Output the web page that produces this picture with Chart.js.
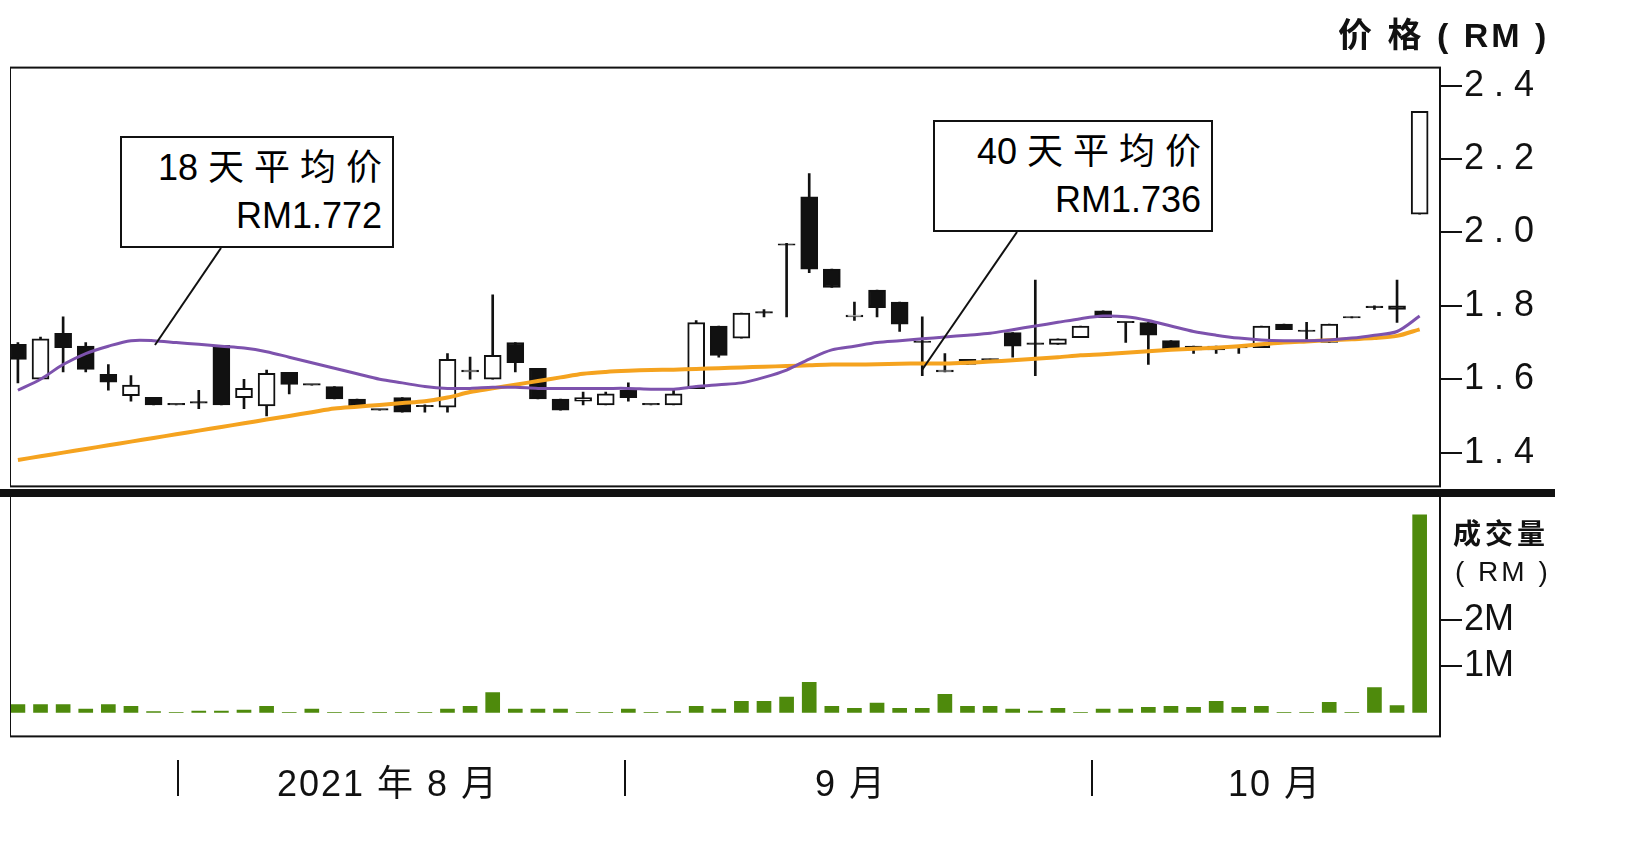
<!DOCTYPE html>
<html>
<head>
<meta charset="utf-8">
<script src="https://cdn.jsdelivr.net/npm/chart.js@4.4.0/dist/chart.umd.min.js"></script>
<style>
  body { margin: 0; background: #fff; width: 1633px; height: 841px; position: relative; overflow: hidden;
         font-family: "Liberation Sans", "Noto Sans CJK SC", sans-serif; }
  .box { position: absolute; }
  .t { position: absolute; color: #111; white-space: nowrap; }
  .callout { position: absolute; border: 2px solid #111; background: #fff; box-sizing: border-box;
             font-size: 36px; text-align: right; padding: 6px 10px 0 0; line-height: 48px; }
</style>
</head>
<body>
<div class="box" style="left:10px;top:44px;width:1545px;height:466px"><canvas id="price"></canvas></div>
<div class="box" style="left:10px;top:471px;width:1545px;height:289px"><canvas id="vol"></canvas></div>
<div style="position:absolute;left:0;top:489px;width:1555px;height:8px;background:#111"></div>

<div class="t" style="left:1338px;top:8px;font-size:34px;font-weight:bold;letter-spacing:3px">价 格 ( RM )</div>
<div class="t" style="left:1453px;top:512px;font-size:28px;font-weight:bold;letter-spacing:4px">成交量</div>
<div class="t" style="left:1455px;top:556px;font-size:28px;letter-spacing:3px">( RM )</div>

<div class="t" style="left:277px;top:754px;font-size:36px;letter-spacing:2px">2021 年 8 月</div>
<div class="t" style="left:815px;top:754px;font-size:36px;letter-spacing:2px">9 月</div>
<div class="t" style="left:1228px;top:754px;font-size:36px;letter-spacing:2px">10 月</div>
<div style="position:absolute;left:177px;top:760px;width:2px;height:36px;background:#111"></div>
<div style="position:absolute;left:624px;top:760px;width:2px;height:36px;background:#111"></div>
<div style="position:absolute;left:1091px;top:760px;width:2px;height:36px;background:#111"></div>

<svg style="position:absolute;left:0;top:0;z-index:2" width="1633" height="841">
  <line x1="221" y1="248" x2="155" y2="345" stroke="#111" stroke-width="2"/>
  <line x1="1017" y1="232" x2="922" y2="370" stroke="#111" stroke-width="2"/>
</svg>
<div class="callout" style="left:120px;top:136px;width:274px;height:112px;z-index:3">18 天 平 均 价<br>RM1.772</div>
<div class="callout" style="left:933px;top:120px;width:280px;height:112px;z-index:3">40 天 平 均 价<br>RM1.736</div>

<script>
var openP  = [1.695,1.60,1.725,1.69,1.613,1.555,1.551,1.53,1.535,1.692,1.55,1.527,1.619,1.584,1.58,1.546,1.516,1.55,1.525,1.524,1.62,1.60,1.70,1.63,1.546,1.54,1.53,1.57,1.53,1.53,1.574,1.745,1.712,1.78,1.965,2.097,1.90,1.77,1.843,1.81,1.70,1.62,1.654,1.652,1.727,1.695,1.695,1.713,1.786,1.754,1.754,1.705,1.68,1.69,1.685,1.686,1.75,1.73,1.70,1.767,1.795,1.80,2.05];
var highP  = [1.70,1.715,1.77,1.70,1.64,1.61,1.551,1.53,1.57,1.692,1.60,1.625,1.619,1.584,1.58,1.546,1.516,1.55,1.53,1.67,1.66,1.83,1.70,1.63,1.546,1.565,1.565,1.59,1.53,1.57,1.76,1.745,1.78,1.79,1.97,2.16,1.90,1.81,1.843,1.81,1.77,1.67,1.654,1.655,1.727,1.87,1.71,1.745,1.786,1.754,1.754,1.705,1.69,1.69,1.685,1.745,1.75,1.755,1.75,1.77,1.80,1.87,2.33];
var lowP   = [1.59,1.60,1.62,1.62,1.57,1.54,1.53,1.53,1.52,1.53,1.52,1.50,1.56,1.584,1.546,1.524,1.516,1.51,1.51,1.51,1.60,1.60,1.62,1.546,1.516,1.53,1.53,1.54,1.53,1.53,1.574,1.66,1.712,1.77,1.77,1.89,1.85,1.76,1.77,1.73,1.61,1.62,1.64,1.645,1.66,1.61,1.695,1.713,1.768,1.70,1.64,1.68,1.67,1.67,1.67,1.686,1.735,1.70,1.70,1.767,1.79,1.755,2.05];
var closeP = [1.654,1.71,1.686,1.627,1.592,1.584,1.53,1.53,1.535,1.53,1.575,1.616,1.586,1.584,1.546,1.524,1.516,1.51,1.525,1.654,1.625,1.665,1.645,1.546,1.516,1.55,1.56,1.55,1.53,1.56,1.754,1.665,1.78,1.78,1.965,1.90,1.85,1.775,1.795,1.75,1.70,1.625,1.64,1.652,1.69,1.695,1.71,1.745,1.768,1.754,1.72,1.68,1.69,1.68,1.685,1.745,1.735,1.73,1.75,1.767,1.795,1.79,2.33];
var ma18 = [1.57,1.60,1.64,1.67,1.69,1.705,1.705,1.70,1.695,1.69,1.685,1.675,1.66,1.645,1.63,1.615,1.60,1.59,1.58,1.575,1.575,1.578,1.578,1.575,1.575,1.575,1.575,1.575,1.573,1.573,1.58,1.585,1.59,1.605,1.625,1.655,1.68,1.69,1.70,1.705,1.71,1.715,1.72,1.725,1.735,1.745,1.755,1.765,1.772,1.77,1.76,1.745,1.73,1.72,1.712,1.707,1.705,1.705,1.707,1.712,1.72,1.73,1.772];
var ma40 = [1.38,1.39,1.40,1.41,1.42,1.43,1.44,1.45,1.46,1.47,1.48,1.49,1.50,1.51,1.52,1.525,1.53,1.535,1.54,1.55,1.565,1.575,1.585,1.595,1.605,1.615,1.62,1.623,1.625,1.626,1.628,1.63,1.632,1.634,1.636,1.638,1.64,1.64,1.641,1.642,1.643,1.643,1.645,1.648,1.652,1.656,1.66,1.665,1.668,1.672,1.676,1.68,1.683,1.686,1.69,1.695,1.70,1.703,1.706,1.709,1.712,1.718,1.736];
var volM = [0.17,0.17,0.17,0.07,0.17,0.13,0.02,0,0.03,0.03,0.05,0.13,0,0.07,0,0,0,0,0,0.07,0.13,0.43,0.07,0.07,0.07,0,0,0.07,0,0.02,0.13,0.07,0.24,0.24,0.33,0.65,0.13,0.09,0.2,0.09,0.09,0.39,0.13,0.13,0.07,0.03,0.09,0,0.07,0.07,0.11,0.13,0.11,0.24,0.11,0.13,0,0,0.22,0,0.54,0.15,4.28];
var priceTicks = [1.4, 1.6, 1.8, 2.0, 2.2, 2.4];
var volTicks = [1, 2];

var wicks = [], bodies = [], bodyColors = [], ma18Pts = [], ma40Pts = [], volPts = [];
for (var i = 0; i < openP.length; i++) {
  wicks.push({x: i, y: [lowP[i], highP[i]]});
  var o = openP[i], c = closeP[i];
  if (Math.abs(o - c) < 0.003) { c = o + 0.004; }
  bodies.push({x: i, y: [o, c]});
  bodyColors.push(closeP[i] > openP[i] ? "#fff" : "#111");
  ma18Pts.push({x: i, y: ma18[i]});
  ma40Pts.push({x: i, y: ma40[i]});
  volPts.push({x: i, y: volM[i]});
}

var framePlugin = { id: "frame", afterDraw: function(ch) {
  var a = ch.chartArea, ctx = ch.ctx;
  ctx.save();
  ctx.strokeStyle = "#111";
  ctx.lineWidth = 2;
  ctx.strokeRect(a.left, a.top, a.right - a.left, a.bottom - a.top);
  ctx.restore();
} };

function xAxis() {
  return { type: "linear", min: -0.35, max: 62.9, offset: false, display: false };
}
function yAxis(min, max, ticks, fmt) {
  return {
    position: "right", min: min, max: max,
    afterBuildTicks: function(ax) { ax.ticks = ticks.map(function(v) { return {value: v}; }); },
    afterFit: function(ax) { ax.width = 115; },
    grid: { drawOnChartArea: false, tickLength: 22, color: "#111", lineWidth: 2 },
    border: { display: false },
    ticks: { color: "#111", padding: 2, font: { size: 36, family: "Liberation Sans" }, callback: fmt }
  };
}

new Chart(document.getElementById("price"), {
  type: "bar",
  data: { datasets: [
    { type: "line", data: ma18Pts, borderColor: "#7d52ad", borderWidth: 3, pointRadius: 0, tension: 0.3, order: 0 },
    { type: "line", data: ma40Pts, borderColor: "#f5a31f", borderWidth: 4, pointRadius: 0, tension: 0.3, order: 0 },
    { data: bodies, backgroundColor: bodyColors, borderColor: "#111", borderWidth: 2, borderSkipped: false, barThickness: 17, grouped: false, order: 1 },
    { data: wicks, backgroundColor: "#111", barThickness: 2, grouped: false, order: 2 }
  ] },
  options: {
    responsive: true, maintainAspectRatio: false, animation: false,
    layout: { padding: { top: 0, bottom: 10, left: 0 } },
    plugins: { legend: { display: false }, tooltip: { enabled: false } },
    scales: { x: xAxis(), y: yAxis(1.308, 2.449, priceTicks, function(v) { return v.toFixed(1).split("").join(" "); }) }
  },
  plugins: [framePlugin]
});

new Chart(document.getElementById("vol"), {
  type: "bar",
  data: { datasets: [ { data: volPts, backgroundColor: "#4e8a0c", barThickness: 14 } ] },
  options: {
    responsive: true, maintainAspectRatio: false, animation: false,
    layout: { padding: { top: 0, bottom: 9 } },
    plugins: { legend: { display: false }, tooltip: { enabled: false } },
    scales: { x: xAxis(), y: yAxis(-0.52, 4.72, volTicks, function(v) { return v + "M"; }) }
  },
  plugins: [framePlugin]
});
</script>
</body>
</html>
